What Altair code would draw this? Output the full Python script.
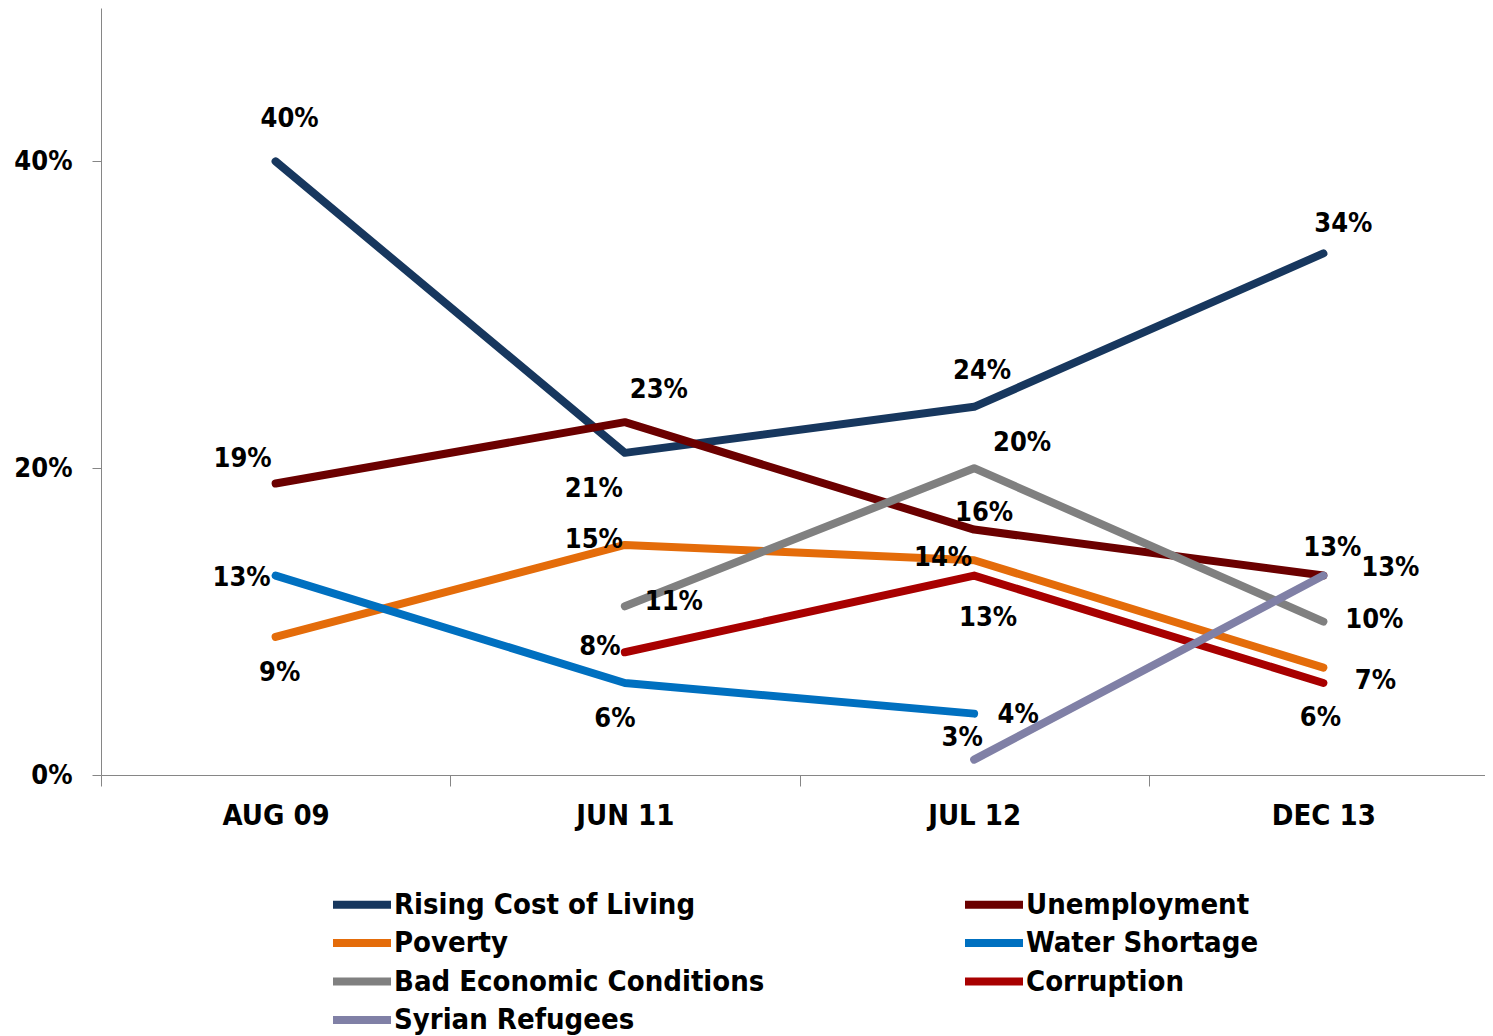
import altair as alt
import pandas as pd

periods = ["AUG 09", "JUN 11", "JUL 12", "DEC 13"]
series = ["Rising Cost of Living", "Unemployment", "Poverty", "Water Shortage",
          "Bad Economic Conditions", "Corruption", "Syrian Refugees"]

rising = [40, 21, 24, 34]
unemployment = [19, 23, 16, 13]
poverty = [9, 15, 14, 7]
water = [13, 6, 4, None]
bad_econ = [None, 11, 20, 10]
corruption = [None, 8, 13, 6]
syrian = [None, None, 1, 13]

# data labels as printed on the chart
rising_lbl = ["40%", "21%", "24%", "34%"]
unemployment_lbl = ["19%", "23%", "16%", "13%"]
poverty_lbl = ["9%", "15%", "14%", "7%"]
water_lbl = ["13%", "6%", "4%", None]
bad_econ_lbl = [None, "11%", "20%", "10%"]
corruption_lbl = [None, "8%", "13%", "6%"]
syrian_lbl = [None, None, "3%", "13%"]

values = [rising, unemployment, poverty, water, bad_econ, corruption, syrian]
labels = [rising_lbl, unemployment_lbl, poverty_lbl, water_lbl, bad_econ_lbl,
          corruption_lbl, syrian_lbl]

colors = ["#17375E", "#6B0000", "#E46C0A", "#0070C0", "#808080", "#A80000", "#8080A6"]

# legend fills column by column; this order shows the series row by row in 2 columns
legend_order = [0, 2, 4, 6, 1, 3, 5]
legend_domain = [series[i] for i in legend_order]
legend_colors = [colors[i] for i in legend_order]

# label offsets (dx, dy) in pixels, per series per period (styling only)
offsets = [
    [(14, -42), (-31, 36), (8, -36), (20, -29)],
    [(-33, -25), (34, -32), (10, -17), (9, -28)],
    [(4, 36), (-31, -5), (-31, -2), (52, 13)],
    [(-34, 2), (-10, 36), (44, 1), None],
    [None, (49, -4), (48, -25), (51, -2)],
    [None, (-25, -5), (14, 42), (-3, 35)],
    [None, None, (-12, -22), (67, -8)],
]

rows = []
for si, (s, vals, lbls) in enumerate(zip(series, values, labels)):
    for i, (p, v, l) in enumerate(zip(periods, vals, lbls)):
        if v is not None:
            rows.append({"series": s, "period": p, "value": v, "label": l,
                         "key": f"{si}_{i}"})
df = pd.DataFrame(rows)

FONT = "DejaVu Sans Condensed, DejaVu Sans"
AXIS_COLOR = "#868686"

x_enc = alt.X("period:N", sort=periods,
              scale=alt.Scale(domain=periods, range=[0, 1397], paddingInner=0, paddingOuter=0),
              axis=alt.Axis(title=None, labelAngle=0, tickBand="extent", tickSize=11,
                            labelPadding=15, labelFont=FONT, labelFontSize=29,
                            labelFontWeight="bold", labelColor="black",
                            domainColor=AXIS_COLOR, tickColor=AXIS_COLOR, grid=False))
y_enc = alt.Y("value:Q",
              scale=alt.Scale(domain=[0, 50], nice=False),
              axis=alt.Axis(title=None, values=[0, 20, 40], labelExpr="datum.value + '%'",
                            tickSize=9, labelPadding=20, labelFont=FONT, labelFontSize=27,
                            labelFontWeight="bold", labelColor="black",
                            domainColor=AXIS_COLOR, tickColor=AXIS_COLOR, grid=False))

# legend line symbol: a horizontal stroke starting at the symbol's left edge
SYMBOL_PATH = "M-1,0H3.64"

lines = alt.Chart(df).mark_line(strokeWidth=8, strokeCap="round", strokeJoin="round").encode(
    x=x_enc, y=y_enc,
    color=alt.Color("series:N",
                    scale=alt.Scale(domain=legend_domain, range=legend_colors),
                    legend=alt.Legend(title=None, orient="none", legendX=228, legendY=880,
                                      columns=2, symbolType=SYMBOL_PATH, symbolSize=625,
                                      symbolStrokeWidth=8, labelFont=FONT, labelFontSize=29,
                                      labelFontWeight="bold", labelColor="black",
                                      labelOffset=32, columnPadding=184, rowPadding=5.5,
                                      padding=0, labelLimit=600)),
)

text_layers = []
for si, s in enumerate(series):
    for pi in range(len(periods)):
        off = offsets[si][pi]
        if off is None or values[si][pi] is None:
            continue
        key = f"{si}_{pi}"
        t = alt.Chart(df).transform_filter(f"datum.key == '{key}'").mark_text(
            dx=off[0], dy=off[1], font=FONT, fontSize=27, fontWeight="bold",
            color="black", align="center", baseline="middle"
        ).encode(x=x_enc, y=y_enc, text="label:N")
        text_layers.append(t)

chart = alt.layer(lines, *text_layers).properties(
    width=1384, height=767,
    autosize=alt.AutoSizeParams(type="none"),
    padding={"left": 93, "top": 0, "right": 0, "bottom": 261},
    background="white",
).configure_view(stroke=None)

chart.save("out.html", embed_options={"renderer": "svg", "actions": False})
